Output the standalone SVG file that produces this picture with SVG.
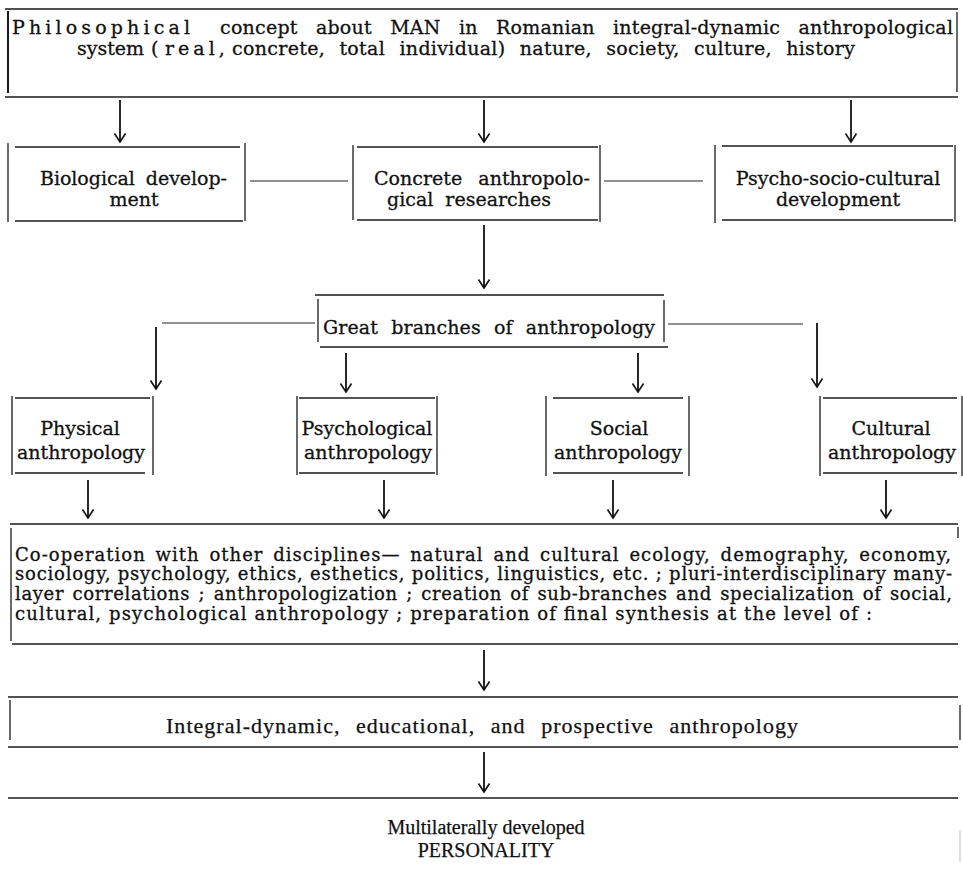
<svg xmlns="http://www.w3.org/2000/svg" width="963" height="870" viewBox="0 0 963 870">
<defs>
<style>
.ln{stroke:#1a1a1a;stroke-width:1.3;fill:none}
.vl{stroke:#1a1a1a;stroke-width:1.3;fill:none}
.conn{stroke:#222;stroke-width:1;fill:none}
.arr{stroke:#111;stroke-width:1.8;fill:none;marker-end:url(#ah)}
.t{font-family:"DejaVu Serif","Liberation Serif",serif;font-size:19px;fill:#111;stroke:#111;stroke-width:0.3}
.s{font-size:18px}
.m{text-anchor:middle}
.c{font-family:"Liberation Serif","DejaVu Serif",serif;font-size:22px;fill:#111;stroke:#111;stroke-width:0.25}
</style>
<marker id="ah" viewBox="0 0 12 14" markerWidth="12" markerHeight="14" refX="10" refY="7" orient="auto" markerUnits="userSpaceOnUse">
<path d="M1.5,1.5 L10,7 L1.5,12.5" fill="none" stroke="#111" stroke-width="1.6"/>
</marker>
</defs>
<rect width="963" height="870" fill="#fff"/>

<g id="philosophy">
<line class="ln" x1="5" y1="9" x2="958" y2="9"/>
<line class="ln" x1="5" y1="97" x2="958" y2="97"/>
<line class="vl" x1="8" y1="11" x2="8" y2="93" style="stroke-width:2"/>
<line class="vl" x1="957" y1="12" x2="957" y2="92"/>
<text class="t" x="12" y="34" textLength="178">Philosophical</text>
<text class="t" x="220" y="34" textLength="733" word-spacing="12">concept about MAN in Romanian integral-dynamic anthropological</text>
<text class="t" x="77" y="55">system</text>
<text class="t" x="151" y="55">(</text>
<text class="t" x="165" y="55" letter-spacing="4">real,</text>
<text class="t" x="232" y="55" textLength="623" word-spacing="8">concrete, total individual) nature, society, culture, history</text>
</g>

<g id="biological">
<line class="ln" x1="15" y1="147" x2="240" y2="147"/>
<line class="ln" x1="15" y1="221" x2="243" y2="221"/>
<line class="vl" x1="8" y1="143" x2="8" y2="222"/>
<line class="vl" x1="245" y1="143" x2="245" y2="221"/>
<text class="t" x="40" y="185" textLength="187" word-spacing="5">Biological develop-</text>
<text class="t m" x="134" y="206">ment</text>
</g>

<g id="concrete">
<line class="ln" x1="357" y1="147" x2="598" y2="147"/>
<line class="ln" x1="357" y1="220" x2="598" y2="220"/>
<line class="vl" x1="353" y1="145" x2="353" y2="220"/>
<line class="vl" x1="600" y1="145" x2="600" y2="222"/>
<text class="t" x="374" y="185" textLength="216" word-spacing="10">Concrete anthropolo-</text>
<text class="t m" x="469" y="206" word-spacing="6">gical researches</text>
</g>

<g id="psycho">
<line class="ln" x1="722" y1="146" x2="953" y2="146"/>
<line class="ln" x1="722" y1="220" x2="953" y2="220"/>
<line class="vl" x1="715" y1="145" x2="715" y2="223"/>
<line class="vl" x1="955" y1="145" x2="955" y2="222"/>
<text class="t m" x="838" y="185">Psycho-socio-cultural</text>
<text class="t m" x="838" y="206">development</text>
</g>

<g id="branches">
<line class="ln" x1="315" y1="295" x2="664" y2="295"/>
<line class="ln" x1="320" y1="347" x2="668" y2="347"/>
<line class="vl" x1="318" y1="299" x2="318" y2="342"/>
<line class="vl" x1="664" y1="300" x2="664" y2="342"/>
<text class="t" x="323" y="334" textLength="332" word-spacing="7">Great branches of anthropology</text>
</g>

<g id="physical">
<line class="ln" x1="15" y1="398" x2="150" y2="398"/>
<line class="ln" x1="15" y1="473" x2="145" y2="473"/>
<line class="vl" x1="12" y1="396" x2="12" y2="475"/>
<line class="vl" x1="153" y1="396" x2="153" y2="475"/>
<text class="t m" x="80" y="435">Physical</text>
<text class="t m" x="81" y="459">anthropology</text>
</g>

<g id="psychological">
<line class="ln" x1="299" y1="398" x2="435" y2="398"/>
<line class="ln" x1="299" y1="473" x2="435" y2="473"/>
<line class="vl" x1="297" y1="396" x2="297" y2="475"/>
<line class="vl" x1="437" y1="396" x2="437" y2="475"/>
<text class="t m" x="367" y="435">Psychological</text>
<text class="t m" x="368" y="459">anthropology</text>
</g>

<g id="social">
<line class="ln" x1="553" y1="398" x2="683" y2="398"/>
<line class="ln" x1="553" y1="473" x2="683" y2="473"/>
<line class="vl" x1="546" y1="396" x2="546" y2="476"/>
<line class="vl" x1="689" y1="396" x2="689" y2="476"/>
<text class="t m" x="619" y="435">Social</text>
<text class="t m" x="618" y="459">anthropology</text>
</g>

<g id="cultural">
<line class="ln" x1="823" y1="398" x2="957" y2="398"/>
<line class="ln" x1="823" y1="473" x2="957" y2="473"/>
<line class="vl" x1="820" y1="396" x2="820" y2="476"/>
<line class="vl" x1="962" y1="396" x2="962" y2="476"/>
<text class="t m" x="891" y="435">Cultural</text>
<text class="t m" x="892" y="459">anthropology</text>
</g>

<g id="cooperation">
<line class="ln" x1="10" y1="524" x2="958" y2="524"/>
<line class="ln" x1="12" y1="644" x2="958" y2="644"/>
<line class="vl" x1="11" y1="528" x2="11" y2="641"/>
<line class="vl" x1="958" y1="527" x2="958" y2="538"/>
<text class="t s" x="15" y="561" textLength="936" word-spacing="3">Co-operation with other disciplines— natural and cultural ecology, demography, economy,</text>
<text class="t s" x="15" y="580" textLength="937">sociology, psychology, ethics, esthetics, politics, linguistics, etc. ; pluri-interdisciplinary many-</text>
<text class="t s" x="15" y="600" textLength="937" word-spacing="2">layer correlations ; anthropologization ; creation of sub-branches and specialization of social,</text>
<text class="t s" x="15" y="620" textLength="857">cultural, psychological anthropology ; preparation of final synthesis at the level of :</text>
</g>

<g id="integral">
<line class="ln" x1="8" y1="697" x2="958" y2="697"/>
<line class="ln" x1="8" y1="747" x2="958" y2="747"/>
<line class="vl" x1="10" y1="700" x2="10" y2="740"/>
<line class="vl" x1="960" y1="705" x2="960" y2="740"/>
<text class="c" x="166" y="733" textLength="632" word-spacing="9">Integral-dynamic, educational, and prospective anthropology</text>
</g>

<g id="personality">
<line class="ln" x1="8" y1="798" x2="958" y2="798"/>
<line x1="960" y1="830" x2="960" y2="862" stroke="#bbb" stroke-width="1"/>
<text class="c m" x="486" y="834" style="font-size:20px">Multilaterally developed</text>
<text class="c m" x="486" y="857" style="font-size:20px">PERSONALITY</text>
</g>

<g id="connectors">
<line class="conn" x1="250" y1="181" x2="348" y2="181"/>
<line class="conn" x1="604" y1="181" x2="703" y2="181"/>
<line class="conn" x1="162" y1="323" x2="315" y2="323"/>
<line class="conn" x1="668" y1="324" x2="803" y2="324"/>
<line class="arr" x1="120" y1="100" x2="120" y2="142"/>
<line class="arr" x1="484" y1="100" x2="484" y2="142"/>
<line class="arr" x1="851" y1="100" x2="851" y2="142"/>
<line class="arr" x1="484" y1="225" x2="484" y2="288"/>
<line class="arr" x1="156" y1="327" x2="156" y2="389"/>
<line class="arr" x1="346" y1="353" x2="346" y2="392"/>
<line class="arr" x1="638" y1="353" x2="638" y2="392"/>
<line class="arr" x1="817" y1="323" x2="817" y2="387"/>
<line class="arr" x1="88" y1="480" x2="88" y2="518"/>
<line class="arr" x1="384" y1="480" x2="384" y2="518"/>
<line class="arr" x1="613" y1="480" x2="613" y2="518"/>
<line class="arr" x1="886" y1="480" x2="886" y2="518"/>
<line class="arr" x1="484" y1="650" x2="484" y2="690"/>
<line class="arr" x1="484" y1="752" x2="484" y2="792"/>
</g>
</svg>
